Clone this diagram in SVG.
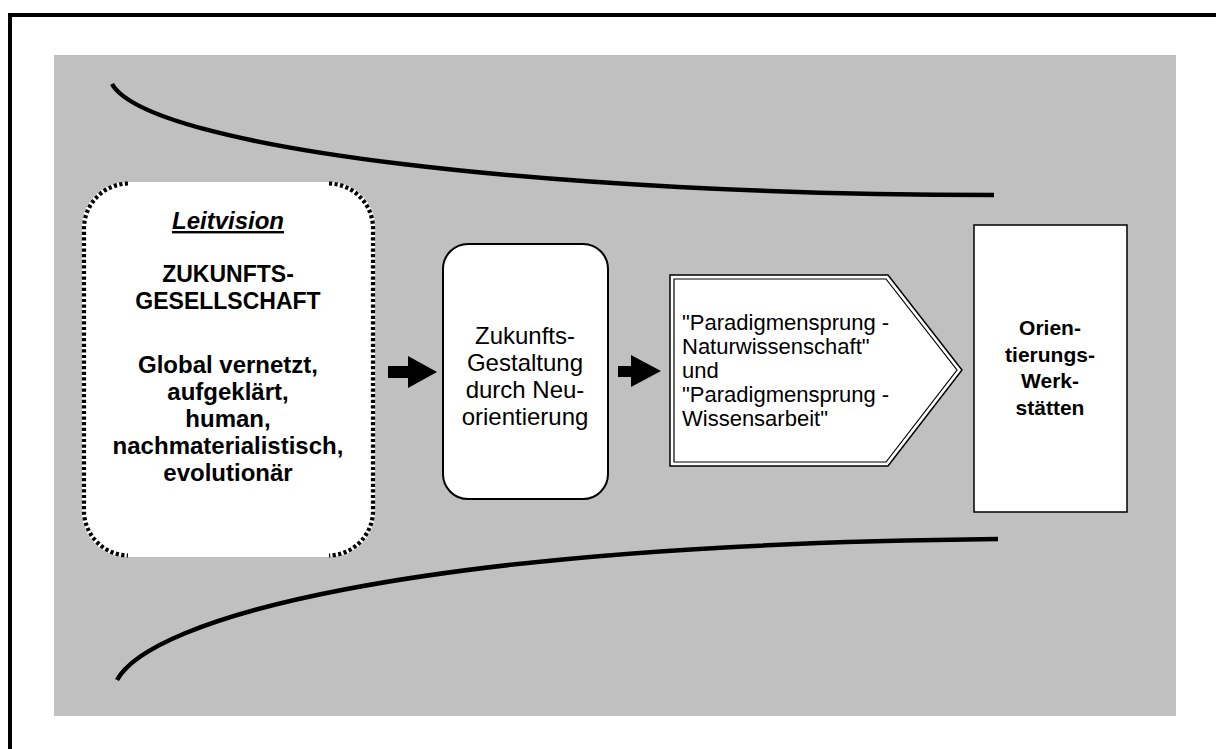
<svg xmlns="http://www.w3.org/2000/svg" width="1216" height="749" viewBox="0 0 1216 749">
<style>
text{font-family:"Liberation Sans",Arial,sans-serif;fill:#000}
.b{font-weight:bold}
.c{text-anchor:middle}
.box{fill:#fff;stroke:#000}
.dot{fill:none;stroke:#000;stroke-width:4.2;stroke-dasharray:3.2 2.4}
.curve{fill:none;stroke:#000;stroke-width:4.5}
.arr{fill:#000}
</style>
<rect x="0" y="0" width="1216" height="749" fill="#fff"/>
<rect x="10" y="15" width="1300" height="1000" fill="none" stroke="#000" stroke-width="4"/>
<rect x="54" y="55" width="1122" height="661" fill="#c0c0c0"/>
<g id="curves">
<path class="curve" d="M112,84 C150,150 560,195 994,195"/>
<path class="curve" d="M117,680 C150,620 400,545 998,539"/>
</g>
<g id="leitvision">
<rect x="82" y="182" width="293" height="375" rx="45" fill="#fff"/>
<path class="dot" d="M128,183.5 A45,45 0 0 0 84,227 L84,512 A45,45 0 0 0 128,555.5"/>
<path class="dot" d="M329,183.5 A45,45 0 0 1 373,227 L373,512 A45,45 0 0 1 329,555.5"/>
<text class="b c" x="228" y="229" font-size="24" font-style="italic" text-decoration="underline">Leitvision</text>
<text class="b c" font-size="23"><tspan x="228" y="282">ZUKUNFTS-</tspan><tspan x="228" y="309">GESELLSCHAFT</tspan></text>
<text class="b c" font-size="24"><tspan x="228" y="373">Global vernetzt,</tspan><tspan x="228" y="400">aufgeklärt,</tspan><tspan x="228" y="427">human,</tspan><tspan x="228" y="454">nachmaterialistisch,</tspan><tspan x="228" y="481">evolutionär</tspan></text>
</g>
<g id="gestaltung">
<rect class="box" x="443" y="244" width="165" height="255" rx="25" stroke-width="2"/>
<text class="c" font-size="24"><tspan x="525" y="344">Zukunfts-</tspan><tspan x="525" y="371">Gestaltung</tspan><tspan x="525" y="398">durch Neu-</tspan><tspan x="525" y="425">orientierung</tspan></text>
</g>
<g id="paradigmensprung">
<polygon class="box" points="670,275 888,275 962,370 888,466 670,466" stroke-width="1.5"/>
<polygon fill="none" stroke="#000" stroke-width="1.2" points="674,279 886,279 957,370 886,462 674,462"/>
<text font-size="22"><tspan x="682" y="330">"Paradigmensprung -</tspan><tspan x="682" y="354">Naturwissenschaft"</tspan><tspan x="682" y="378">und</tspan><tspan x="682" y="402">"Paradigmensprung -</tspan><tspan x="682" y="426">Wissensarbeit"</tspan></text>
</g>
<g id="werkstaetten">
<rect class="box" x="974" y="225" width="153" height="287" stroke-width="1.5"/>
<text class="b c" font-size="21"><tspan x="1050" y="335">Orien-</tspan><tspan x="1050" y="362">tierungs-</tspan><tspan x="1050" y="388">Werk-</tspan><tspan x="1050" y="415">stätten</tspan></text>
</g>
<g id="connectors">
<polygon class="arr" points="388,366 408,366 408,356 437,372 408,388 408,378 388,378"/>
<polygon class="arr" points="618,366 631,366 631,355 661,371 631,387 631,377 618,377"/>
</g>
</svg>
